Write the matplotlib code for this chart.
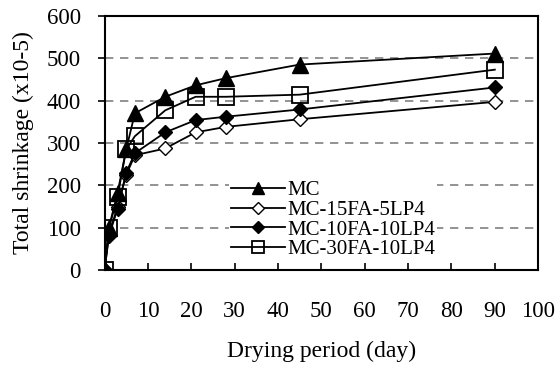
import matplotlib.pyplot as plt

days = [0, 1, 3, 5, 7, 14, 21, 28, 45, 90]
mc = [0, 100, 182, 285, 370, 409, 436, 453, 485, 511]
mc_15fa_5lp4 = [0, 82, 150, 225, 271, 287, 325, 338, 356, 397]
mc_10fa_10lp4 = [0, 80, 145, 230, 276, 325, 354, 362, 379, 431]
mc_30fa_10lp4 = [0, 99, 173, 285, 316, 377, 409, 409, 414, 473]

plt.rcParams['font.family'] = ['Liberation Serif', 'DejaVu Serif']

fig = plt.figure(figsize=(5.56, 3.68), dpi=100)
ax = fig.add_axes([0.188, 0.266, 0.78, 0.691])

for y in [100, 200, 300, 400, 500]:
    ax.axhline(y, color='#808080', lw=1.2, ls=(0, (5, 4)), zorder=0)

ax.plot(days, mc, '-^', color='black', lw=1.3, ms=11, mfc='black', label='MC')
ax.plot(days, mc_15fa_5lp4, '-D', color='black', lw=1.3, ms=7.5, mfc='white', label='MC-15FA-5LP4')
ax.plot(days, mc_10fa_10lp4, '-D', color='black', lw=1.3, ms=7.5, mfc='black', label='MC-10FA-10LP4')
ax.plot(days, mc_30fa_10lp4, '-s', color='black', lw=1.3, ms=11, mfc='none', mew=1.3, label='MC-30FA-10LP4')

ax.set_xlim(0, 100)
ax.set_ylim(0, 600)
ax.set_xticks(range(0, 101, 10))
ax.set_yticks(range(0, 601, 100))
ax.tick_params(axis='x', direction='in', length=5, width=1.2, labelsize=16.5, pad=22)
ax.tick_params(axis='y', direction='out', length=5, width=1.2, labelsize=16.5, pad=12)
for s in ax.spines.values():
    s.set_linewidth(1.5)

ax.set_xlabel('Drying period (day)', fontsize=17, labelpad=14)
ax.set_ylabel('Total shrinkage (x10-5)', fontsize=17, labelpad=9)

leg = ax.legend(loc='upper left', bbox_to_anchor=(0.262, 0.40), fontsize=15,
                frameon=True, framealpha=1, edgecolor='none', fancybox=False,
                labelspacing=0.0, handlelength=2.6, handletextpad=0.1,
                borderpad=0.1, numpoints=1, markerscale=0.75)

fig.savefig('out.png', dpi=100)
